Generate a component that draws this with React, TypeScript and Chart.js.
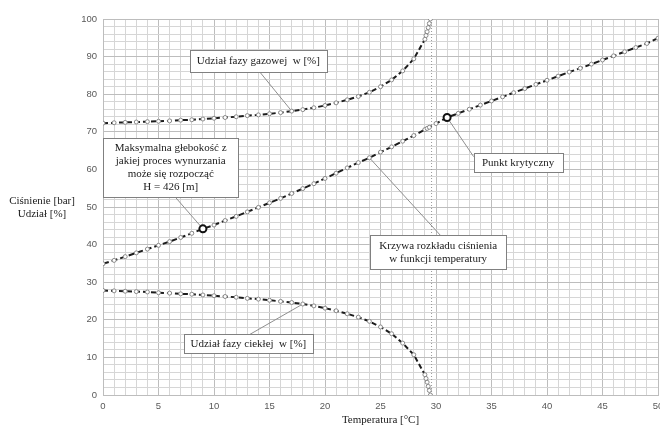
import React, { useEffect, useRef } from 'react';
import { Chart, registerables } from 'chart.js';

Chart.register(...registerables);

// Temperature [°C] / pressure [bar] – pressure curve
const pressureTemps = [0, 1, 2, 3, 4, 5, 6, 7, 8, 9, 10, 11, 12, 13, 14, 15, 16, 17, 18, 19, 20, 21, 22, 23, 24, 25, 26, 27, 28, 29, 29.2, 29.4, 30, 31, 32, 33, 34, 35, 36, 37, 38, 39, 40, 41, 42, 43, 44, 45, 46, 47, 48, 49, 50];
const pressureValues = [34.9, 35.8, 36.8, 37.8, 38.8, 39.8, 40.8, 41.9, 43.0, 44.2, 45.2, 46.4, 47.5, 48.7, 49.9, 51.1, 52.3, 53.6, 54.9, 56.2, 57.6, 59.0, 60.4, 61.8, 63.1, 64.6, 66.0, 67.5, 69.0, 70.6, 70.9, 71.2, 72.2, 73.8, 74.9, 76.0, 77.1, 78.2, 79.3, 80.4, 81.5, 82.6, 83.7, 84.8, 85.9, 86.9, 88.0, 89.1, 90.2, 91.3, 92.4, 93.5, 94.9];

// Liquid phase share [%]
const liquidTemps = [0, 1, 2, 3, 4, 5, 6, 7, 8, 9, 10, 11, 12, 13, 14, 15, 16, 17, 18, 19, 20, 21, 22, 23, 24, 25, 26, 27, 28, 29, 29.1, 29.2, 29.3, 29.4, 29.5];
const liquidValues = [27.8, 27.7, 27.6, 27.5, 27.4, 27.2, 27.1, 26.9, 26.8, 26.6, 26.4, 26.2, 26.0, 25.7, 25.5, 25.2, 24.9, 24.6, 24.2, 23.7, 23.1, 22.4, 21.6, 20.7, 19.6, 18.1, 16.3, 13.8, 10.7, 5.4, 4.4, 3.4, 2.3, 1.2, 0];

// Gas phase share [%]
const gasTemps = [0, 1, 2, 3, 4, 5, 6, 7, 8, 9, 10, 11, 12, 13, 14, 15, 16, 17, 18, 19, 20, 21, 22, 23, 24, 25, 26, 27, 28, 29, 29.1, 29.2, 29.3, 29.4, 29.5];
const gasValues = [72.3, 72.4, 72.5, 72.6, 72.7, 72.8, 72.9, 73.1, 73.2, 73.4, 73.6, 73.8, 74.0, 74.3, 74.5, 74.8, 75.1, 75.5, 75.9, 76.4, 77.0, 77.7, 78.5, 79.4, 80.5, 82.0, 83.8, 86.2, 89.4, 94.6, 95.6, 96.6, 97.7, 98.8, 100];

// Highlighted points: max depth and critical point
const keyTemps = [9, 31];
const keyValues = [44.2, 73.8];

// Dotted vertical line (temperature where phases meet)
const dividerTemp = 29.6;

const xMin = 0, xMax = 50, xStep = 1, xLabelEvery = 5;
const yMin = 0, yMax = 100, yStep = 2, yLabelEvery = 10;

const yTitleLines = ['Ciśnienie [bar]', 'Udział [%]'];
const xTitle = 'Temperatura [°C]';

// Callouts: text lines, box centre (data coords), box size (px), leader start offset (px), target (data)
const callouts = [
  { lines: ['Udział fazy gazowej  w [%]'], cx: 14.0, cy: 88.8, w: 137, h: 22, lx: 1.5, ly: 11, tx: 17, ty: 75.5 },
  { lines: ['Maksymalna głebokość z', 'jakiej proces wynurzania', 'może się rozpocząć', 'H = 426 [m]'], cx: 6.1, cy: 60.5, w: 135, h: 59, lx: 4.5, ly: 29.5, tx: 9, ty: 44.2 },
  { lines: ['Punkt krytyczny'], cx: 37.4, cy: 61.8, w: 89, h: 19, lx: -44.5, ly: -6, tx: 31, ty: 73.8 },
  { lines: ['Krzywa rozkładu ciśnienia', 'w funkcji temperatury'], cx: 30.2, cy: 38.0, w: 136, h: 34, lx: 2, ly: -17, tx: 24, ty: 63.1 },
  { lines: ['Udział fazy ciekłej  w [%]'], cx: 13.1, cy: 13.6, w: 129, h: 19, lx: 1.5, ly: -9.5, tx: 18, ty: 24.2 },
];

const SERIF = '"Liberation Serif", "DejaVu Serif", serif';

const toPts = (xs: number[], ys: number[]) => xs.map((x, i) => ({ x, y: ys[i] }));

const overlayPlugin = {
  id: 'overlay',
  beforeDatasetsDraw(chart: any) {
    const { ctx, scales } = chart;
    const xs = scales.x, ys = scales.y;
    ctx.save();
    ctx.strokeStyle = '#8f8f8f';
    ctx.lineWidth = 1;
    for (const c of callouts) {
      const cx = xs.getPixelForValue(c.cx);
      const cy = ys.getPixelForValue(c.cy);
      ctx.beginPath();
      ctx.moveTo(cx + c.lx, cy + c.ly);
      ctx.lineTo(xs.getPixelForValue(c.tx), ys.getPixelForValue(c.ty));
      ctx.stroke();
    }
    ctx.restore();
  },
  afterDatasetsDraw(chart: any) {
    const { ctx, scales, chartArea } = chart;
    const xs = scales.x, ys = scales.y;
    ctx.save();
    for (const c of callouts) {
      const cx = xs.getPixelForValue(c.cx);
      const cy = ys.getPixelForValue(c.cy);
      const left = Math.round(cx - c.w / 2) + 0.5;
      const top = Math.round(cy - c.h / 2) + 0.5;
      ctx.fillStyle = '#ffffff';
      ctx.fillRect(left, top, c.w, c.h);
      ctx.strokeStyle = '#808080';
      ctx.lineWidth = 1;
      ctx.strokeRect(left, top, c.w, c.h);
      ctx.fillStyle = '#1a1a1a';
      ctx.font = `11px ${SERIF}`;
      ctx.textAlign = 'center';
      ctx.textBaseline = 'middle';
      const lh = 13;
      const startY = cy - ((c.lines.length - 1) * lh) / 2;
      c.lines.forEach((t, i) => ctx.fillText(t, cx, startY + i * lh));
    }
    // axis titles
    ctx.fillStyle = '#1a1a1a';
    ctx.font = `11px ${SERIF}`;
    ctx.textAlign = 'center';
    ctx.textBaseline = 'middle';
    ctx.fillText(yTitleLines[0], 42, 201);
    ctx.fillText(yTitleLines[1], 42, 214);
    ctx.fillText(xTitle, (chartArea.left + chartArea.right) / 2, 420);
    ctx.restore();
  },
};

export default function App() {
  const canvasRef = useRef<HTMLCanvasElement | null>(null);

  useEffect(() => {
    document.body.style.margin = '0';
    const canvas = canvasRef.current;
    if (!canvas) return;
    const tickFont = { family: '"Liberation Sans", Arial, sans-serif', size: 9.5 };
    const chart = new Chart(canvas, {
      type: 'line',
      data: {
        datasets: [
          {
            data: toPts(keyTemps, keyValues),
            showLine: false,
            pointRadius: 3.5,
            pointBorderWidth: 2,
            pointBorderColor: '#111111',
            pointBackgroundColor: '#ffffff',
            order: 0,
          } as any,
          {
            data: toPts(pressureTemps, pressureValues),
            borderColor: '#1c1c1c',
            borderWidth: 2,
            borderDash: [6, 3],
            pointRadius: 2,
            pointBorderWidth: 1,
            pointBorderColor: '#8a8a8a',
            pointBackgroundColor: '#ffffff',
            tension: 0,
            order: 1,
          },
          {
            data: toPts(gasTemps, gasValues),
            borderColor: '#1c1c1c',
            borderWidth: 2,
            borderDash: [5, 3],
            pointRadius: 2,
            pointBorderWidth: 1,
            pointBorderColor: '#8a8a8a',
            pointBackgroundColor: '#ffffff',
            tension: 0,
            order: 1,
          },
          {
            data: toPts(liquidTemps, liquidValues),
            borderColor: '#1c1c1c',
            borderWidth: 2,
            borderDash: [5, 3],
            pointRadius: 2,
            pointBorderWidth: 1,
            pointBorderColor: '#8a8a8a',
            pointBackgroundColor: '#ffffff',
            tension: 0,
            order: 1,
          },
          {
            data: [{ x: dividerTemp, y: yMin }, { x: dividerTemp, y: yMax }],
            borderColor: '#9a9a9a',
            borderWidth: 1,
            borderDash: [1, 2],
            pointRadius: 0,
            order: 5,
          },
        ],
      },
      options: {
        responsive: false,
        animation: false,
        layout: { padding: { top: 19, right: 0, bottom: 0, left: 0 } },
        plugins: { legend: { display: false }, tooltip: { enabled: false } },
        scales: {
          x: {
            type: 'linear',
            min: xMin,
            max: xMax,
            ticks: {
              stepSize: xStep,
              autoSkip: false,
              maxRotation: 0,
              padding: 0,
              color: '#595959',
              font: tickFont,
              callback: (v: any) => (Number(v) % xLabelEvery === 0 ? String(v) : ''),
            },
            grid: {
              drawTicks: true,
              tickLength: 6,
              tickColor: 'rgba(0,0,0,0)',
              lineWidth: 1,
              color: (c: any) => (c.tick && c.tick.value % xLabelEvery === 0 ? '#bdbdbd' : '#d6d6d6'),
            },
            border: { display: true, color: '#bdbdbd' },
            afterFit: (s: any) => {
              s.height = 31;
            },
          },
          y: {
            type: 'linear',
            min: yMin,
            max: yMax,
            ticks: {
              stepSize: yStep,
              autoSkip: false,
              padding: 6,
              color: '#595959',
              font: tickFont,
              callback: (v: any) => (Number(v) % yLabelEvery === 0 ? String(v) : ''),
            },
            grid: {
              drawTicks: false,
              lineWidth: 1,
              color: (c: any) => (c.tick && c.tick.value % yLabelEvery === 0 ? '#bdbdbd' : '#d6d6d6'),
            },
            border: { display: true, color: '#bdbdbd' },
            afterFit: (s: any) => {
              s.width = 103;
              s.paddingTop = 0;
              s.paddingBottom = 0;
            },
          },
        },
      },
      plugins: [overlayPlugin],
    } as any);
    return () => chart.destroy();
  }, []);

  return (
    <div style={{ width: 660, height: 426, overflow: 'hidden' }}>
      <canvas ref={canvasRef} width={664} height={426} style={{ display: 'block' }} />
    </div>
  );
}
